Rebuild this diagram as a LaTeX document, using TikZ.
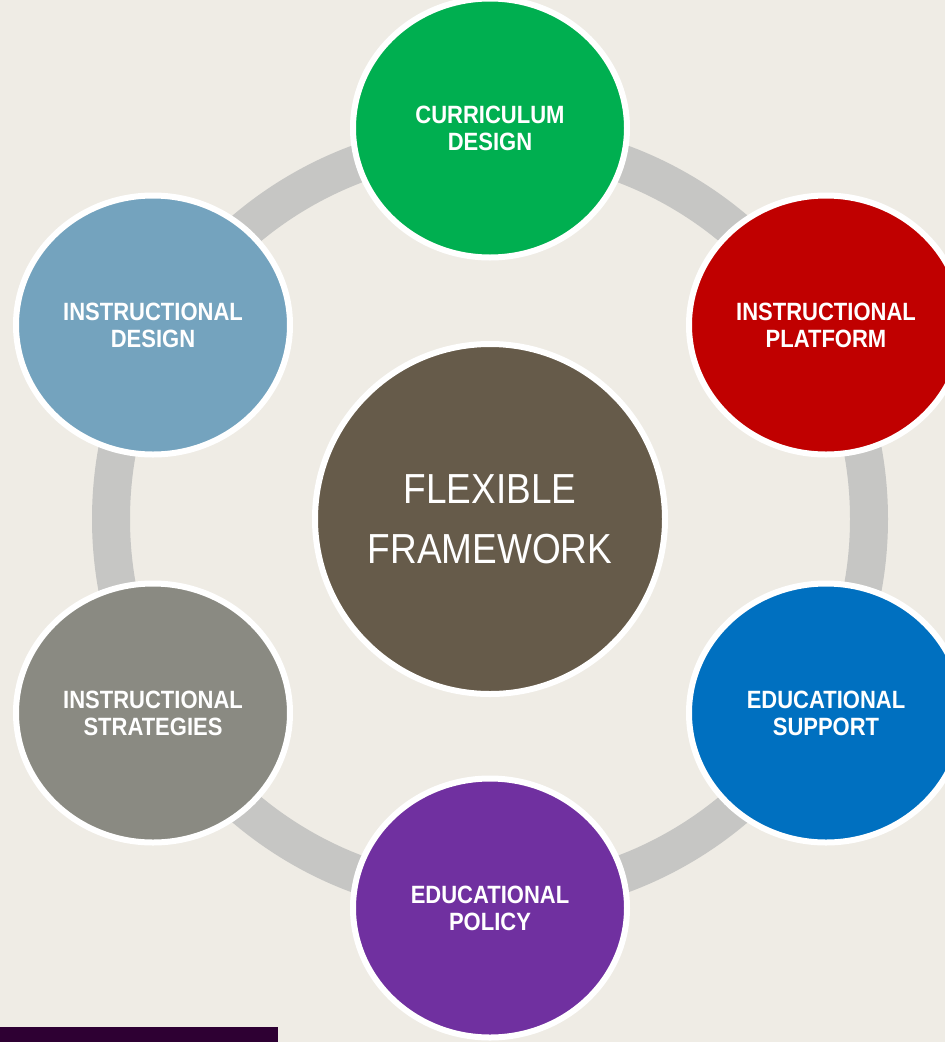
\documentclass[tikz,border=0pt]{standalone}
\usepackage{fontspec}
\setmainfont[FakeStretch=0.88]{Liberation Sans}
\usetikzlibrary{shapes.geometric}
\definecolor{bgcream}{HTML}{EFECE5}
\definecolor{ringgray}{HTML}{C6C6C4}
\definecolor{hubbrown}{HTML}{665B4A}
\definecolor{currgreen}{HTML}{00AF50}
\definecolor{platred}{HTML}{C00000}
\definecolor{suppblue}{HTML}{0070C0}
\definecolor{polpurple}{HTML}{7030A0}
\definecolor{desblue}{HTML}{74A3BE}
\definecolor{stratgray}{HTML}{8A8A82}
\definecolor{barpurple}{HTML}{2E0033}
\begin{document}
\begin{tikzpicture}[x=1pt,y=-1pt,
  hub/.style={circle, draw=white, line width=6pt, fill=hubbrown, minimum size=350pt,
    inner sep=0pt, text=white, align=center, font=\fontsize{42}{60}\selectfont},
  spoke/.style={ellipse, draw=white, line width=6pt, minimum width=274pt, minimum height=259pt,
    inner sep=0pt, text=white, align=center, font=\bfseries\fontsize{25}{27}\selectfont}]
 \clip (0,0) rectangle (945,1042);
 \fill[bgcream] (0,0) rectangle (945,1042);
 \fill[barpurple] (0,1027) rectangle (278,1042);

 % ring behind the circles
 \coordinate (hubc) at (490,519);
 \draw[ringgray, line width=38pt] (hubc) circle[radius=379pt];

 \node[hub] (flex) at (hubc) {FLEXIBLE\\FRAMEWORK};

 \node[spoke, fill=currgreen] (curr) at (490,128) {CURRICULUM\\DESIGN};
 \node[spoke, fill=platred] (plat) at (826,325) {INSTRUCTIONAL\\PLATFORM};
 \node[spoke, fill=suppblue] (supp) at (826,713) {EDUCATIONAL\\SUPPORT};
 \node[spoke, fill=polpurple] (poli) at (490,908) {EDUCATIONAL\\POLICY};
 \node[spoke, fill=stratgray] (strat) at (153,713) {INSTRUCTIONAL\\STRATEGIES};
 \node[spoke, fill=desblue] (idesign) at (153,325) {INSTRUCTIONAL\\DESIGN};
\end{tikzpicture}
\end{document}
